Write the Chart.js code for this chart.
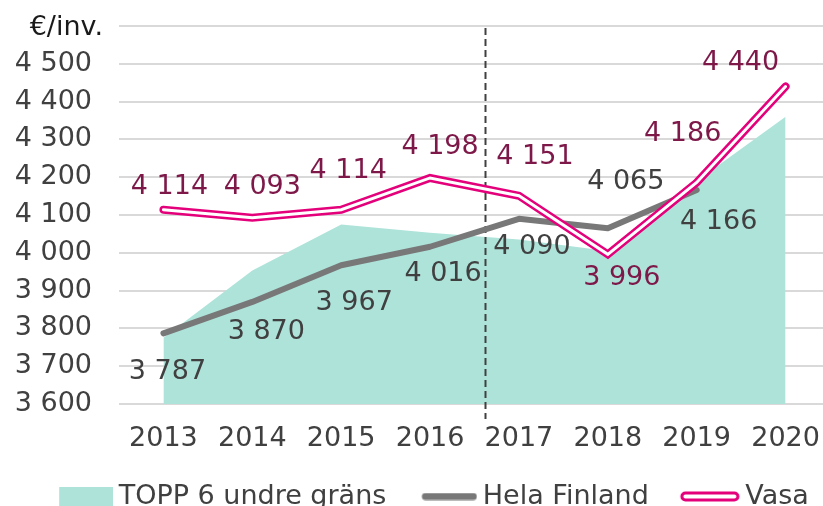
<!DOCTYPE html>
<html>
<head>
<meta charset="utf-8">
<script src="https://cdn.jsdelivr.net/npm/chart.js@4.4.0/dist/chart.umd.min.js"></script>
<style>
  html, body { margin: 0; padding: 0; background: #fff; overflow: hidden; }
  #wrap { width: 830px; height: 520px; }
</style>
</head>
<body>
<div id="wrap"><canvas id="chart"></canvas></div>
<script>
// ---- data ----
const years = ["2013", "2014", "2015", "2016", "2017", "2018", "2019", "2020"];
const topp6 = [3775, 3953, 4075, 4053, 4035, 4005, 4190, 4360];
const helaFinland = [3787, 3870, 3967, 4016, 4090, 4065, 4166, null];
const vasa = [4114, 4093, 4114, 4198, 4151, 3996, 4186, 4440];
const seriesNames = ["TOPP 6 undre gräns", "Hela Finland", "Vasa"];
const yMin = 3600, yMax = 4600, yStep = 100;
const unitLabel = "€/inv.";
const dividerAt = 3.62; // dashed line between 2016 and 2017

// label placement relative to each point (dx, dy)
const helaLabelOffsets = [[4, 39], [14, 30], [13, 38], [13, 27], [13, 28], [18, -46], [22, 32]];
const vasaLabelOffsets = [[6, -23], [10, -31], [7, -39], [10, -31], [16, -39], [14, 24], [-14, -49], [-45, -23]];

// ---- styles ----
const FONT_FAMILY = "'DejaVu Sans', sans-serif";
const FONT_SIZE = 27;
const LEGEND_SHIFT = 14;
const TEAL = "#aee3da";
const GRAY = "#787878";
const PINK = "#e4007a";
const TEXT = "#404040";
const VASA_TEXT = "#7d1849";

const fmt = v => String(v).replace(/\B(?=(\d{3})+(?!\d))/g, " ");

// legend markers: drawn at the right side of a 72px canvas so they sit close to the text
function marker(h, draw) {
  const c = document.createElement("canvas");
  c.width = 72; c.height = h;
  draw(c.getContext("2d"));
  return c;
}
const toppMarker = marker(20, ctx => { ctx.fillStyle = TEAL; ctx.fillRect(18, 0, 54, 20); });
const helaMarker = marker(8, ctx => {
  ctx.strokeStyle = GRAY; ctx.lineWidth = 7; ctx.lineCap = "round";
  ctx.beginPath(); ctx.moveTo(20, 4); ctx.lineTo(68, 4); ctx.stroke();
});
const vasaMarker = marker(11, ctx => {
  ctx.strokeStyle = PINK; ctx.lineWidth = 3; ctx.fillStyle = "#fff";
  ctx.beginPath(); ctx.roundRect(14, 2, 56, 7, 3.5); ctx.fill(); ctx.stroke();
});

const dividerLine = {
  id: "dividerLine",
  afterDatasetDraw(chart, args) {
    if (args.index !== 0) return;
    const { ctx, scales: { x, y } } = chart;
    const px = Math.round(x.getPixelForValue(dividerAt)) + 0.5;
    ctx.save();
    ctx.strokeStyle = "#404040";
    ctx.lineWidth = 2;
    ctx.setLineDash([7, 4]);
    ctx.beginPath();
    ctx.moveTo(px, y.getPixelForValue(yMax) + 2);
    ctx.lineTo(px, y.getPixelForValue(yMin) + 15);
    ctx.stroke();
    ctx.restore();
  }
};

const valueLabels = {
  id: "valueLabels",
  afterLayout(chart) {
    // legend sits a little right of centre in the original
    chart.legend.left += LEGEND_SHIFT;
    chart.legend.right += LEGEND_SHIFT;
  },
  afterDatasetsDraw(chart) {
    const ctx = chart.ctx;
    ctx.save();
    ctx.font = `${FONT_SIZE}px ${FONT_FAMILY}`;
    ctx.textAlign = "center";
    ctx.textBaseline = "middle";
    [[1, helaLabelOffsets, TEXT], [2, vasaLabelOffsets, VASA_TEXT]].forEach(([di, offs, color]) => {
      const meta = chart.getDatasetMeta(di);
      const data = chart.data.datasets[di].data;
      ctx.fillStyle = color;
      meta.data.forEach((pt, i) => {
        if (data[i] == null) return;
        const [dx, dy] = offs[i];
        ctx.fillText(fmt(data[i]), pt.x + dx, pt.y + dy);
      });
    });
    // unit label in place of the top tick
    const y = chart.scales.y;
    ctx.fillStyle = "#1a1a1a";
    ctx.textAlign = "right";
    ctx.fillText(unitLabel, chart.chartArea.left - 16, y.getPixelForValue(yMax) + 2);
    ctx.restore();
  }
};

new Chart(document.getElementById("chart"), {
  type: "line",
  data: {
    labels: years,
    datasets: [
      {
        label: seriesNames[0], data: topp6, fill: "start", backgroundColor: TEAL,
        borderColor: "rgba(0,0,0,0)", borderWidth: 0, pointRadius: 0, tension: 0, order: 3
      },
      {
        label: seriesNames[1], data: helaFinland, fill: false, borderColor: GRAY, borderWidth: 6,
        borderCapStyle: "round", borderJoinStyle: "round", pointRadius: 0, tension: 0, order: 2
      },
      {
        label: seriesNames[2], data: vasa, fill: false, borderColor: PINK, borderWidth: 8,
        borderCapStyle: "round", borderJoinStyle: "miter", pointRadius: 0, tension: 0, order: 1
      },
      {
        label: "vasa-inner", data: vasa, fill: false, borderColor: "#fff", borderWidth: 3,
        borderCapStyle: "round", borderJoinStyle: "miter", pointRadius: 0, tension: 0, order: 0
      }
    ]
  },
  options: {
    responsive: true,
    maintainAspectRatio: false,
    animation: false,
    events: [],
    layout: { padding: { top: 26, left: 0, right: 0, bottom: 0 } },
    plugins: {
      tooltip: { enabled: false },
      legend: {
        position: "bottom",
        labels: {
          usePointStyle: true,
          pointStyleWidth: 56,
          padding: 27,
          color: TEXT,
          font: { family: FONT_FAMILY, size: FONT_SIZE },
          generateLabels: () => [toppMarker, helaMarker, vasaMarker].map((m, i) => ({
            text: seriesNames[i],
            pointStyle: m,
            fillStyle: "rgba(0,0,0,0)",
            strokeStyle: "rgba(0,0,0,0)",
            lineWidth: 0,
            fontColor: TEXT,
            hidden: false,
            datasetIndex: i
          }))
        }
      }
    },
    scales: {
      x: {
        offset: true,
        grid: { display: false, drawTicks: false },
        border: { display: false },
        ticks: { color: TEXT, padding: 19, font: { family: FONT_FAMILY, size: FONT_SIZE }, maxRotation: 0 },
        afterFit: s => { s.height = 52; s.paddingLeft = 0; s.paddingRight = 0; }
      },
      y: {
        min: yMin,
        max: yMax,
        grid: { color: "#d9d9d9", lineWidth: 2, drawTicks: false },
        border: { display: false },
        ticks: {
          stepSize: yStep,
          padding: 27,
          color: TEXT,
          font: { family: FONT_FAMILY, size: FONT_SIZE },
          callback: v => (v === yMax ? "" : fmt(v))
        },
        afterFit: s => { s.width = 119; s.paddingTop = 0; s.paddingBottom = 0; }
      }
    }
  },
  plugins: [dividerLine, valueLabels]
});
</script>
</body>
</html>
